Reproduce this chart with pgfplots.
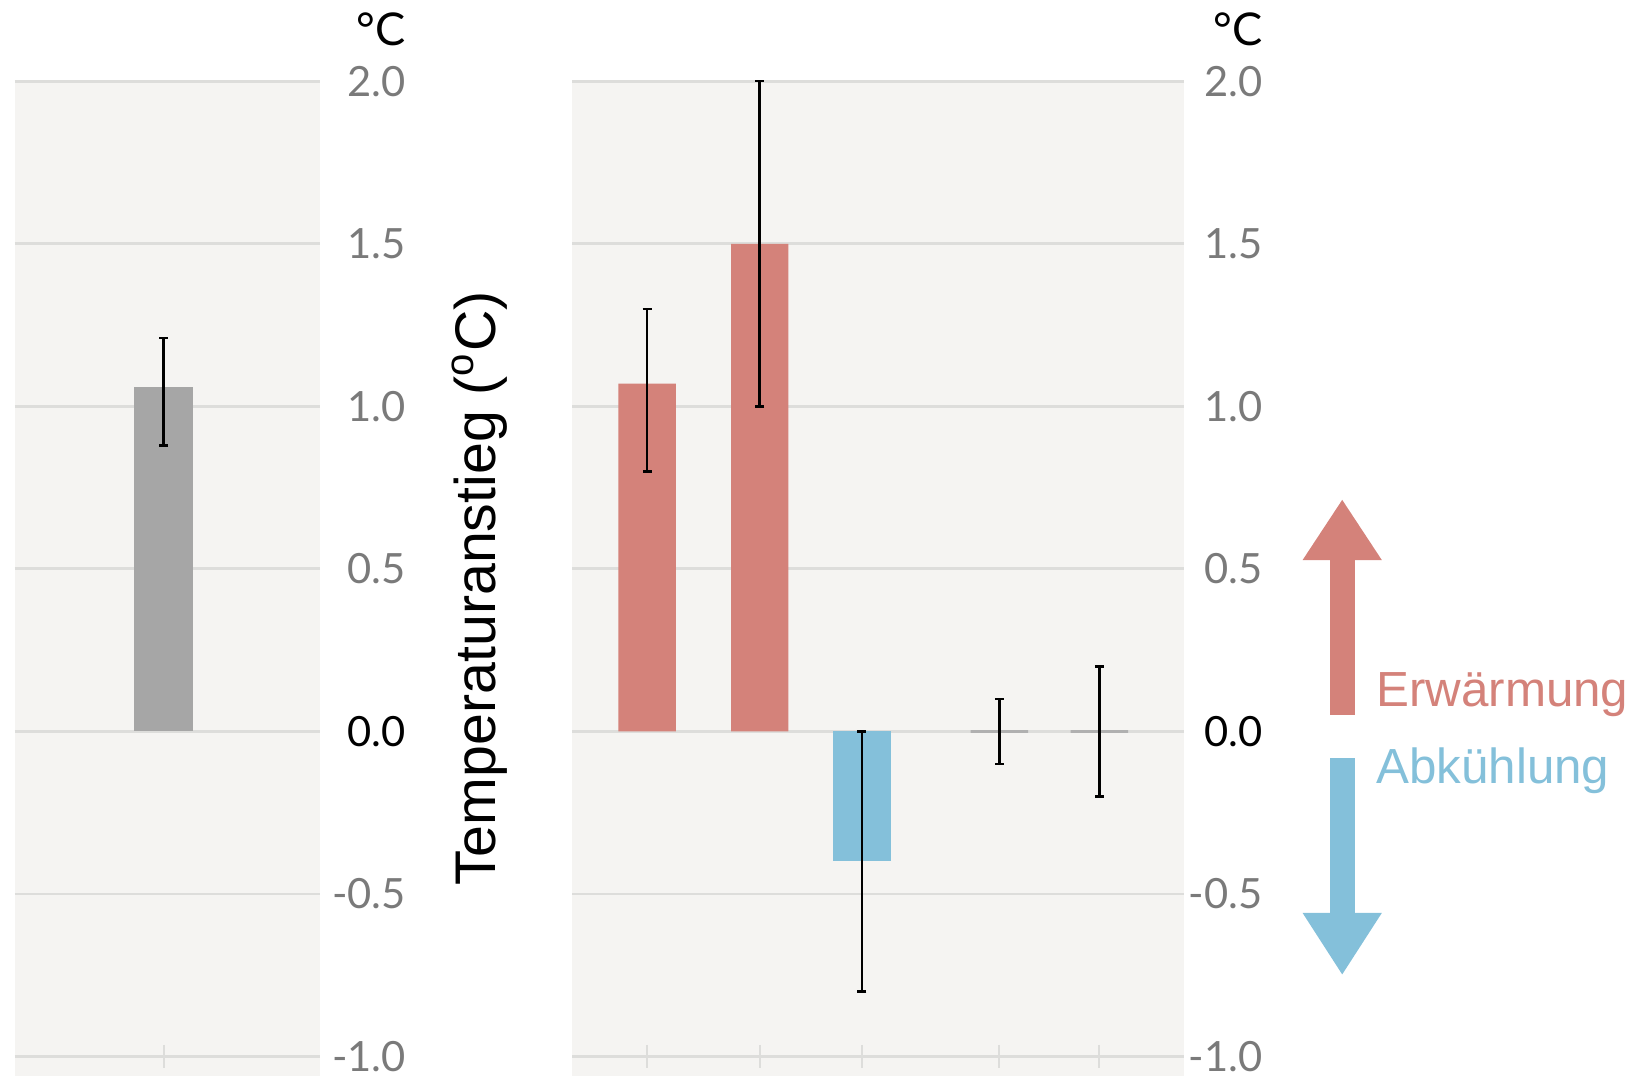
\documentclass[border=0pt]{standalone}
\usepackage{fontspec}
\setmainfont{Liberation Sans}
\newfontfamily\lato{Lato}
\usepackage{pgfplots}
\pgfplotsset{compat=1.18}
\definecolor{bgc}{HTML}{F5F4F2}
\definecolor{gridc}{HTML}{DDDDDB}
\definecolor{tickc}{HTML}{7A7A7A}
\definecolor{redc}{HTML}{D4827A}
\definecolor{bluec}{HTML}{84C0DA}
\definecolor{grayc}{HTML}{A6A6A6}
\definecolor{zeroc}{HTML}{B0B0B0}
\pgfplotsset{
  panel/.style={
    anchor=south west, scale only axis, height=286.5pt,
    ymin=-1.062, ymax=2.0,
    axis background/.style={fill=bgc},
    axis line style={draw=none},
    ymajorgrids, grid style={gridc, line width=0.75pt},
    ytick={-1,-0.5,0,0.5,1,1.5,2},
    yticklabels={\textcolor{tickc}{-1.0},\textcolor{tickc}{-0.5},\textcolor{black}{0.0},\textcolor{tickc}{0.5},\textcolor{tickc}{1.0},\textcolor{tickc}{1.5},\textcolor{tickc}{2.0}},
    yticklabel pos=right,
    major tick length=0pt,
    xtick=\empty,
    clip=false,
  },
  ebar/.style={error bars/.cd, y dir=both, y explicit,
    error bar style={black, line width=0.7pt},
    error mark options={black, line width=0.7pt, mark size=1.3pt, rotate=90}},
}
\begin{document}
\begin{tikzpicture}
% left panel
\begin{axis}[panel, at={(4.2pt,-309.9pt)}, width=87.9pt, xmin=14, xmax=307,
  yticklabel style={anchor=east, inner sep=0pt, xshift=24.9pt, font=\lato\fontsize{12}{14}\selectfont}]
\addplot[ybar, bar shift=0pt, bar width=56, fill=grayc, draw=none, ebar]
  coordinates {(157,1.06) += (0,0.15) -= (0,0.18)};
\addplot[only marks, mark=|, mark size=3.3pt, mark options={gridc, line width=0.6pt}]
  coordinates {(157,-1)};
\node[anchor=base east, inner sep=0pt, font=\lato\fontsize{13}{15}\selectfont] at (axis cs:390,2.109) {°C};
\node[rotate=90, inner sep=0pt, font=\fontsize{16.5}{19}\selectfont] at (axis cs:460,0.439) {Temperaturanstieg (\textsuperscript{o}C)};
\path (axis cs:0,2.25) rectangle (axis cs:1568,-1.062);
\end{axis}
% right panel
\begin{axis}[panel, at={(164.7pt,-309.9pt)}, width=176.1pt, xmin=549, xmax=1136,
  yticklabel style={anchor=east, inner sep=0pt, xshift=22.8pt, font=\lato\fontsize{12}{14}\selectfont}]
\addplot[ybar, bar shift=0pt, bar width=55, fill=redc, draw=none, ebar]
  coordinates {(621,1.07) += (0,0.23) -= (0,0.27)
               (729,1.5) += (0,0.5) -= (0,0.5)};
\addplot[ybar, bar shift=0pt, bar width=56, fill=bluec, draw=none, ebar]
  coordinates {(827,-0.4) += (0,0.4) -= (0,0.4)};
\addplot[ybar, bar shift=0pt, bar width=55, fill=zeroc, draw=zeroc, line width=0.8pt, ebar]
  coordinates {(959,0) +- (0,0.1)
               (1055,0) +- (0,0.2)};
\addplot[only marks, mark=|, mark size=3.3pt, mark options={gridc, line width=0.6pt}]
  coordinates {(621,-1) (729,-1) (827,-1) (959,-1) (1055,-1)};
\node[anchor=base east, inner sep=0pt, font=\lato\fontsize{13}{15}\selectfont] at (axis cs:1212,2.109) {°C};
% arrows
\fill[redc] (axis cs:1276,0.051) rectangle (axis cs:1300,0.527);
\fill[redc] (axis cs:1250,0.527) -- (axis cs:1326,0.527) -- (axis cs:1288,0.712) -- cycle;
\fill[bluec] (axis cs:1276,-0.081) rectangle (axis cs:1300,-0.559);
\fill[bluec] (axis cs:1250,-0.559) -- (axis cs:1326,-0.559) -- (axis cs:1288,-0.748) -- cycle;
\node[anchor=base west, inner sep=0pt, text=redc, font=\fontsize{14.2}{16}\selectfont] at (axis cs:1320,0.076) {Erwärmung};
\node[anchor=base west, inner sep=0pt, text=bluec, font=\fontsize{14.2}{16}\selectfont] at (axis cs:1320,-0.161) {Abkühlung};
\path (axis cs:0,2.25) rectangle (axis cs:1568,-1.062);
\end{axis}
\end{tikzpicture}
\end{document}
